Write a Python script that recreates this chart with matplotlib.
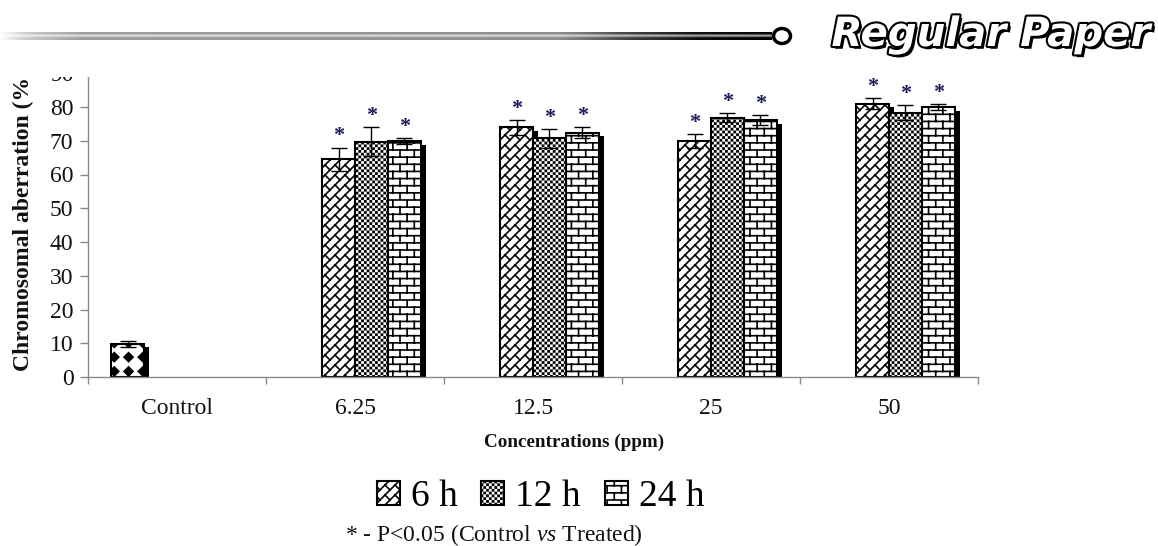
import warnings
import numpy as np
import matplotlib
matplotlib.use('Agg')
import matplotlib.pyplot as plt
import matplotlib.patches as mpatches
import matplotlib.patheffects as pe
import matplotlib.hatch as mhatch
from matplotlib.path import Path

warnings.filterwarnings('ignore')

# ---------------- data ----------------
categories = ['Control', '6.25', '12.5', '25', '50']
series_names = ['6 h', '12 h', '24 h']
control_mean = [9.9]
control_err = [0.9]
mean_6h = [64.5, 74.0, 69.9, 81.0]
err_6h = [3.5, 2.2, 2.0, 1.6]
mean_12h = [69.7, 70.7, 76.8, 78.3]
err_12h = [4.3, 2.7, 1.3, 2.2]
mean_24h = [69.9, 72.4, 76.1, 79.9]
err_24h = [1.0, 1.6, 1.4, 0.9]
yticks = list(range(0, 100, 10))
x_label = 'Concentrations (ppm)'
y_label = 'Chromosomal aberration (%)'
footnote = r'* - P<0.05 (Control $\mathit{vs}$ Treated)'
header_text = 'Regular Paper'

# ---------------- style ----------------
HATCH_LW = 1.2
plt.rcParams['font.family'] = ['Liberation Serif', 'DejaVu Serif']
plt.rcParams['hatch.linewidth'] = HATCH_LW
plt.rcParams['mathtext.fontset'] = 'custom'
plt.rcParams['mathtext.rm'] = 'Liberation Serif'
plt.rcParams['mathtext.it'] = 'Liberation Serif:italic'


# ---------------- custom hatch patterns (Excel-like) ----------------
def _segs(segs):
    a = np.asarray(segs, float).reshape(-1, 2, 2)
    v = a.reshape(-1, 2)
    c = np.tile([Path.MOVETO, Path.LINETO], len(a)).astype(Path.code_type)
    return v, c


def _polys(polys):
    vs, cs = [], []
    for p in polys:
        p = np.asarray(p, float)
        vs.append(np.vstack([p, p[:1]]))
        cs.append([Path.MOVETO] + [Path.LINETO] * (len(p) - 1) + [Path.CLOSEPOLY])
    return np.vstack(vs), np.concatenate(cs).astype(Path.code_type)


class _CustomHatch(mhatch.HatchPatternBase):
    char = ''

    def __init__(self, hatch, density):
        if self.char and self.char in hatch:
            self._v, self._c = self.build()
            self.num_vertices = len(self._v)
        else:
            self.num_vertices = 0

    def set_vertices_and_codes(self, vertices, codes):
        vertices[:] = self._v
        codes[:] = self._c


class BrickHatch(_CustomHatch):
    char = 'b'

    def build(self):
        R, C = 14, 7
        segs = [[(0, r / R), (1, r / R)] for r in range(R + 1)]
        for r in range(R):
            off = (r % 2) / (2 * C)
            for j in range(-1, C + 1):
                xx = j / C + off
                segs.append([(xx, r / R), (xx, (r + 1) / R)])
        return _segs(segs)


class DiagBrickHatch(_CustomHatch):
    char = 'd'

    def build(self):
        n = 10
        L = 2.0 / n
        segs = [[(0, k / n), (1, 1 + k / n)] for k in range(-n, n + 1)]
        for k in range(-n, n):
            c0, c1 = k / n, (k + 1) / n
            off = (k % 2) * L / 2
            for j in range(int(-1 / L) - 2, int(3 / L) + 3):
                p = j * L + off
                segs.append([((p - c1) / 2, (p + c1) / 2), ((p - c0) / 2, (p + c0) / 2)])
        return _segs(segs)


class CheckerHatch(_CustomHatch):
    char = 'c'

    def build(self):
        N = 36
        cell = 1.0 / N
        side = max(cell - HATCH_LW / 72.0, 0.002)
        polys = []
        for i in range(N):
            for j in range(N):
                if (i + j) % 2 == 0:
                    cx, cy = (i + 0.5) * cell, (j + 0.5) * cell
                    h = side / 2
                    polys.append([(cx - h, cy - h), (cx + h, cy - h), (cx + h, cy + h), (cx - h, cy + h)])
        return _polys(polys)


class DiamondHatch(_CustomHatch):
    char = 'v'

    def build(self):
        N = 7
        h = 0.045
        polys = []
        for i in range(N + 1):
            for j in range(N + 1):
                cx, cy = i / N, j / N
                polys.append([(cx - h, cy), (cx, cy - h), (cx + h, cy), (cx, cy + h)])
        return _polys(polys)


mhatch._hatch_types.extend([BrickHatch, DiagBrickHatch, CheckerHatch, DiamondHatch])
mhatch._validate_hatch_pattern = lambda hatch: None

# ---------------- figure ----------------
W, H = 1158, 546
DPI = 100
fig = plt.figure(figsize=(W / DPI, H / DPI), dpi=DPI)


def fx(px):
    return px / W


def fy(py):
    return 1 - py / H


ax_l, ax_r, ax_t, ax_b = 88, 978, 73.25, 377
ax = fig.add_axes([fx(ax_l), fy(ax_b), fx(ax_r - ax_l), (ax_b - ax_t) / H])

ncat = len(categories)
x = np.arange(ncat)
w = 0.185
offsets = np.array([-1.5, -0.5, 0.5, 1.5]) * w
ax.set_xlim(-0.5, ncat - 0.5)
ax.set_ylim(0, 90)

# shadow offsets (5 px right, 3.5 px down)
dx = 5.0 * (ncat / (ax_r - ax_l))
dy = 3.5 * (90.0 / (ax_b - ax_t))

bar_kw = dict(facecolor='white', edgecolor='black', linewidth=1.5, zorder=2)
shadow_kw = dict(color='black', linewidth=0, zorder=1.5)
err_kw = dict(fmt='none', ecolor='black', elinewidth=1.0, capsize=6, capthick=1.0, zorder=3)
star_color = '#1c1c5a'

# Control
cx = x[:1] + offsets[0]
ax.bar(cx + dx, np.array(control_mean) - dy, w, **shadow_kw)
ax.bar(cx, control_mean, w, hatch='v', **bar_kw)
ax.errorbar(cx, control_mean, yerr=control_err, **err_kw)

series = [(mean_6h, err_6h, 'd'), (mean_12h, err_12h, 'c'), (mean_24h, err_24h, 'b')]
tx = x[1:]
for i, (m, e, hat) in enumerate(series):
    xs = tx + offsets[i + 1]
    m = np.array(m)
    e = np.array(e)
    ax.bar(xs + dx, m - dy, w, **shadow_kw)
    ax.bar(xs, m, w, hatch=hat, **bar_kw)
    ax.errorbar(xs, m, yerr=e, **err_kw)
    for xi, top in zip(xs, m + e):
        ax.text(xi, top + 1.8, '*', ha='center', va='baseline', fontsize=16,
                fontweight='bold', color=star_color, zorder=4)

# axes styling
for s in ['top', 'right']:
    ax.spines[s].set_visible(False)
for s in ['left', 'bottom']:
    ax.spines[s].set_color('#8a8a8a')
    ax.spines[s].set_linewidth(1.0)

ax.set_yticks(yticks)
ax.tick_params(axis='y', direction='out', length=5.5, width=1, color='#8a8a8a',
               labelsize=17, pad=5, labelcolor='#111111')
ax.set_xticks(np.arange(-0.5, ncat, 1.0))
ax.set_xticklabels([])
ax.tick_params(axis='x', which='major', direction='out', length=5, width=1, color='#8a8a8a')
ax.set_xticks(x, minor=True)
ax.set_xticklabels(categories, minor=True)
ax.tick_params(axis='x', which='minor', length=0, pad=15, labelsize=17, labelcolor='#111111')

# labels
fig.text(fx(574.5), fy(447), x_label, ha='center', va='baseline', fontsize=13.8,
         fontweight='bold', color='#111111')
fig.text(fx(23), fy(220), y_label, ha='center', va='center', rotation=90,
         fontsize=17, fontweight='bold', color='#111111')

# legend
handles = [mpatches.Patch(facecolor='white', edgecolor='black', linewidth=1.5, hatch=h)
           for h in ['d', 'c', 'b']]
fig.legend(handles, series_names, loc='center', bbox_to_anchor=(fx(540.5), fy(497)),
           ncol=3, frameon=False, fontsize=27, handlelength=0.61, handleheight=0.61,
           handletextpad=0.29, columnspacing=0.64, borderpad=0, borderaxespad=0)

# footnote
fig.text(fx(345), fy(541), footnote, ha='left', va='baseline', fontsize=17, color='#111111')

# white mask over the top of the plot (the chart is cut by the page header)
fig.add_artist(mpatches.Rectangle((0, fy(77)), 1, 77 / H, transform=fig.transFigure,
                                  facecolor='white', edgecolor='none', zorder=5))

# page header: gradient rule, ring, and "Regular Paper"
hax = fig.add_axes([0, fy(40), fx(772), 8 / H])
hax.set_zorder(10)
cols = np.arange(772)
g = np.interp(cols, [0, 25, 80, 560, 630, 700, 772], [1.0, 0.8, 0.62, 0.55, 0.25, 0.05, 0.0])
rows = np.linspace(0, 1, 9)
prof = np.exp(-((rows - 0.45) / 0.16) ** 2)
img = g[None, :] + (1 - g[None, :]) * 0.75 * prof[:, None]
hax.imshow(img, aspect='auto', cmap='gray', vmin=0, vmax=1, interpolation='bilinear')
hax.axis('off')

fig.add_artist(mpatches.Ellipse((fx(782), fy(36)), 17 / W, 15 / H, transform=fig.transFigure,
                                facecolor='white', edgecolor='black', linewidth=2.5, zorder=11))

fig.text(fx(1150), fy(46), header_text, ha='right', va='baseline', fontsize=29,
         fontweight='bold', fontstyle='italic', family='DejaVu Sans', color='white', zorder=12,
         path_effects=[pe.SimplePatchShadow(offset=(2, -2), shadow_rgbFace='black', alpha=1.0),
                       pe.Stroke(linewidth=3, foreground='black'), pe.Normal()])

fig.savefig('out.png', dpi=DPI)
